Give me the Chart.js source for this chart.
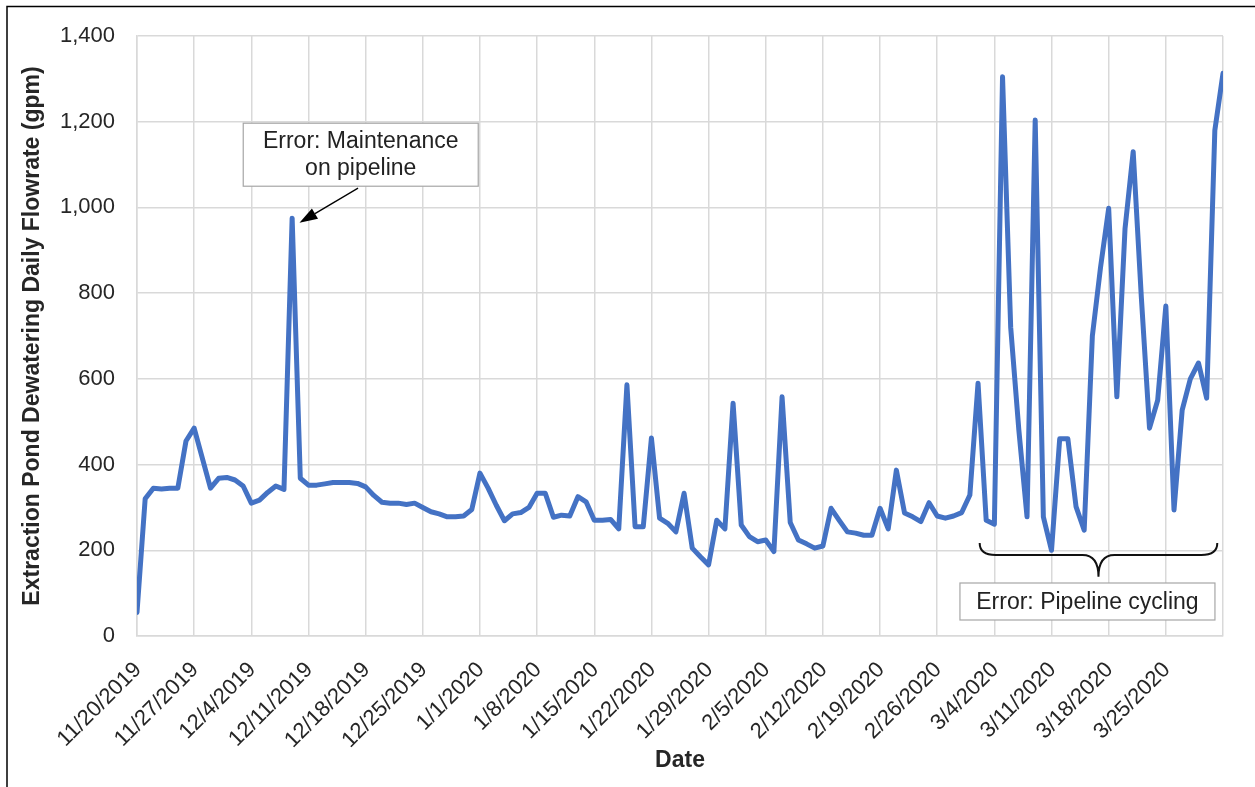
<!DOCTYPE html>
<html>
<head>
<meta charset="utf-8">
<script src="https://cdn.jsdelivr.net/npm/chart.js@4.4.1/dist/chart.umd.min.js"></script>
<style>
  html, body { margin: 0; padding: 0; background: #ffffff; }
  #wrap { position: relative; width: 1255px; height: 787px; }
  canvas { display: block; }
</style>
</head>
<body>
<div id="wrap"><canvas id="c" width="1255" height="787"></canvas></div>
<script>
// ---------------- data ----------------
const tickLabels = ['11/20/2019','11/27/2019','12/4/2019','12/11/2019','12/18/2019','12/25/2019',
  '1/1/2020','1/8/2020','1/15/2020','1/22/2020','1/29/2020','2/5/2020','2/12/2020','2/19/2020',
  '2/26/2020','3/4/2020','3/11/2020','3/18/2020','3/25/2020'];

// daily flowrate (gpm), 11/20/2019 .. 4/1/2020
const flowrate = [
  55, 320, 345, 343, 345, 345, 455, 485, 415, 345,
  368, 370, 364, 350, 310, 317, 335, 350, 342, 975,
  368, 352, 352, 355, 358, 358, 358, 356, 348, 328,
  312, 310, 310, 307, 310, 300, 290, 285, 278, 278,
  280, 295, 380, 345, 305, 269, 285, 288, 300, 333,
  333, 277, 282, 280, 325, 313, 270, 270, 272, 250,
  586, 255, 255, 462, 275, 263, 243, 333, 205, 185,
  166, 270, 250, 543, 259, 232, 220, 224, 197, 558,
  265, 224, 215, 205, 210, 298, 270, 243, 240, 235,
  235, 298, 250, 387, 287, 278, 267, 311, 280, 275,
  280, 288, 329, 590, 270, 261, 1305, 720, 480, 278,
  1204, 278, 200, 460, 460, 302, 247, 700, 860, 998,
  558, 950, 1130, 790, 485, 550, 770, 294, 527, 600,
  637, 555, 1180, 1313
];

const dayIndex = flowrate.map((_, i) => i);

// annotation anchors (in data units: day index, gpm)
const maintenanceNote = { lines: ['Error: Maintenance', 'on pipeline'], day: 27.4, gpm: 1123,
  arrowFromDay: 27.07, arrowFromGpm: 1045, arrowToDay: 19.9, arrowToGpm: 964 };
const cyclingNote = { text: 'Error: Pipeline cycling', day: 116.4, gpm: 80.5,
  braceFromDay: 103.2, braceToDay: 132.3, braceTopGpm: 217, braceMidGpm: 189, braceTipGpm: 138 };

// ---------------- styles ----------------
const FONT = "'Liberation Sans', Arial, Helvetica, sans-serif";
const GRID = '#d9d9d9';

const notesPlugin = {
  id: 'notes',
  afterDraw(chart) {
    const ctx = chart.ctx;
    const xs = chart.scales.x, ys = chart.scales.y;
    ctx.save();
    // outer frame (left + top)
    ctx.strokeStyle = '#000';
    ctx.lineWidth = 1.5;
    ctx.beginPath();
    ctx.moveTo(7, 787); ctx.lineTo(7, 6.5); ctx.lineTo(1255, 6.5);
    ctx.stroke();

    // maintenance callout
    const m = maintenanceNote;
    const bx = xs.getPixelForValue(m.day), by = ys.getPixelForValue(m.gpm);
    const bw = 235, bh = 63;
    ctx.fillStyle = '#fff';
    ctx.fillRect(bx - bw / 2, by - bh / 2, bw, bh);
    ctx.strokeStyle = '#a6a6a6';
    ctx.lineWidth = 1.2;
    ctx.strokeRect(bx - bw / 2, by - bh / 2, bw, bh);
    ctx.fillStyle = '#222';
    ctx.font = '23px ' + FONT;
    ctx.textAlign = 'center';
    ctx.textBaseline = 'middle';
    ctx.fillText(m.lines[0], bx, by - 13);
    ctx.fillText(m.lines[1], bx, by + 14);

    // arrow
    const ax0 = xs.getPixelForValue(m.arrowFromDay), ay0 = ys.getPixelForValue(m.arrowFromGpm);
    const ax1 = xs.getPixelForValue(m.arrowToDay), ay1 = ys.getPixelForValue(m.arrowToGpm);
    const ang = Math.atan2(ay1 - ay0, ax1 - ax0);
    const hl = 18, hw = 6;
    ctx.strokeStyle = '#000';
    ctx.fillStyle = '#000';
    ctx.lineWidth = 1.3;
    ctx.beginPath();
    ctx.moveTo(ax0, ay0);
    ctx.lineTo(ax1 - Math.cos(ang) * hl, ay1 - Math.sin(ang) * hl);
    ctx.stroke();
    ctx.beginPath();
    ctx.moveTo(ax1, ay1);
    ctx.lineTo(ax1 - Math.cos(ang) * hl - Math.sin(ang) * hw, ay1 - Math.sin(ang) * hl + Math.cos(ang) * hw);
    ctx.lineTo(ax1 - Math.cos(ang) * hl + Math.sin(ang) * hw, ay1 - Math.sin(ang) * hl - Math.cos(ang) * hw);
    ctx.closePath();
    ctx.fill();

    // brace
    const c = cyclingNote;
    const x1 = xs.getPixelForValue(c.braceFromDay), x2 = xs.getPixelForValue(c.braceToDay);
    const xc = (x1 + x2) / 2;
    const yT = ys.getPixelForValue(c.braceTopGpm), yM = ys.getPixelForValue(c.braceMidGpm), yP = ys.getPixelForValue(c.braceTipGpm);
    const r = 16;
    ctx.strokeStyle = '#111';
    ctx.lineWidth = 2;
    ctx.beginPath();
    ctx.moveTo(x1, yT);
    ctx.quadraticCurveTo(x1, yM, x1 + r, yM);
    ctx.lineTo(xc - r, yM);
    ctx.quadraticCurveTo(xc, yM, xc, yP);
    ctx.quadraticCurveTo(xc, yM, xc + r, yM);
    ctx.lineTo(x2 - r, yM);
    ctx.quadraticCurveTo(x2, yM, x2, yT);
    ctx.stroke();

    // cycling box
    const cx = xs.getPixelForValue(c.day), cy = ys.getPixelForValue(c.gpm);
    const cw = 255, ch = 37;
    ctx.fillStyle = '#fff';
    ctx.fillRect(cx - cw / 2, cy - ch / 2, cw, ch);
    ctx.strokeStyle = '#a6a6a6';
    ctx.lineWidth = 1.2;
    ctx.strokeRect(cx - cw / 2, cy - ch / 2, cw, ch);
    ctx.fillStyle = '#222';
    ctx.font = '23px ' + FONT;
    ctx.fillText(c.text, cx, cy + 1);
    ctx.restore();
  }
};

new Chart(document.getElementById('c'), {
  type: 'line',
  data: {
    datasets: [{
      label: 'Flowrate',
      data: dayIndex.map(i => ({ x: i, y: flowrate[i] })),
      borderColor: '#4472C4',
      backgroundColor: '#4472C4',
      borderWidth: 5,
      pointRadius: 0,
      tension: 0,
      borderJoinStyle: 'round',
      borderCapStyle: 'round'
    }]
  },
  options: {
    responsive: false,
    animation: false,
    devicePixelRatio: 1,
    layout: { padding: { top: 36, right: 32, left: 0, bottom: 0 } },
    plugins: { legend: { display: false }, tooltip: { enabled: false } },
    scales: {
      x: {
        type: 'linear',
        min: 0,
        max: flowrate.length - 1,
        afterBuildTicks(scale) {
          scale.ticks = tickLabels.map((_, i) => ({ value: i * 7 })).concat([{ value: flowrate.length - 1 }]);
        },
        afterFit(scale) {
          scale.height = 151;
          scale.paddingLeft = 0;
          scale.paddingRight = 0;
        },
        grid: { color: GRID, lineWidth: 1.5, drawTicks: false },
        border: { color: GRID, width: 1.5 },
        ticks: {
          autoSkip: false,
          minRotation: 45,
          maxRotation: 45,
          padding: 21,
          labelOffset: 1,
          color: '#262626',
          font: { family: FONT, size: 22 },
          callback: (v) => (v % 7 === 0 && tickLabels[v / 7]) ? tickLabels[v / 7] : ''
        },
        title: {
          display: true,
          text: 'Date',
          color: '#262626',
          font: { family: FONT, size: 23, weight: 'bold' },
          padding: { top: 0, bottom: 13 }
        }
      },
      y: {
        min: 0,
        max: 1400,
        afterFit(scale) { scale.width = 137; },
        grid: { color: GRID, lineWidth: 1.5, drawTicks: false },
        border: { color: GRID, width: 1.5 },
        ticks: {
          stepSize: 200,
          padding: 22,
          color: '#262626',
          font: { family: FONT, size: 22 },
          callback: (v) => v.toLocaleString('en-US')
        },
        title: {
          display: true,
          text: 'Extraction Pond Dewatering Daily Flowrate (gpm)',
          color: '#262626',
          font: { family: FONT, size: 23, weight: 'bold' },
          padding: { top: 19, bottom: 0 }
        }
      }
    }
  },
  plugins: [notesPlugin]
});
</script>
</body>
</html>
